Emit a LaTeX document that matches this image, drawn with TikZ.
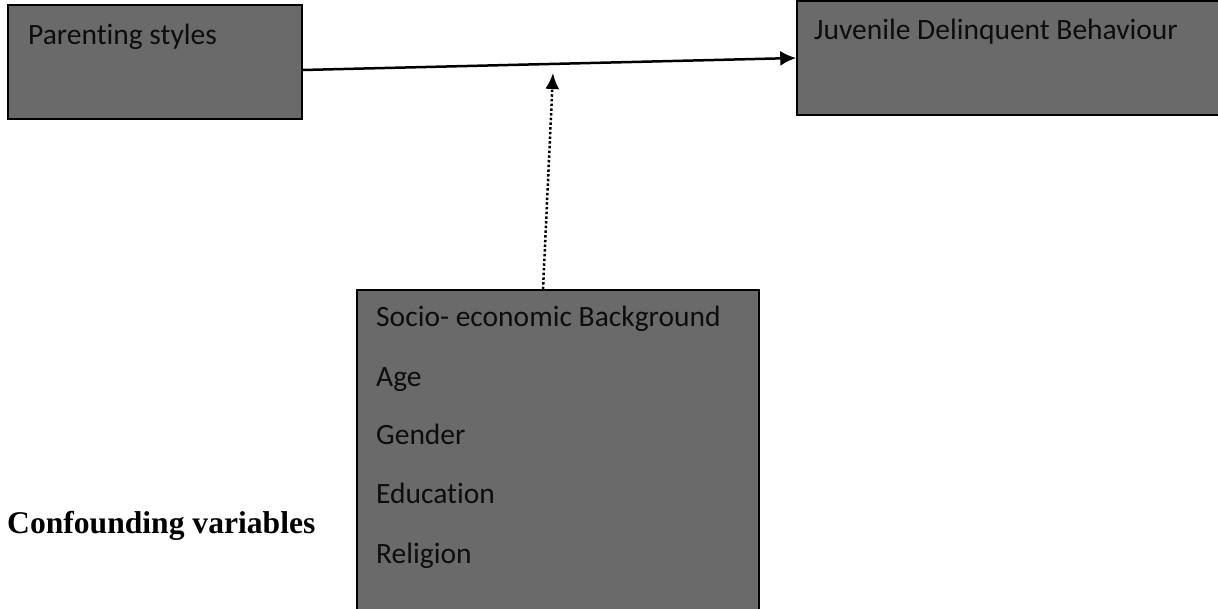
\documentclass[tikz,border=0pt]{standalone}
\usepackage{fontspec}
\setmainfont{Liberation Serif}
\newfontfamily\calibri[Ligatures=NoCommon]{Carlito}
\usetikzlibrary{arrows.meta}
\definecolor{boxgray}{HTML}{6A6A6A}

\tikzset{
    box/.style={rectangle, draw=black, line width=1.5pt, fill=boxgray, inner sep=0pt},
    lbl/.style={anchor=base west, inner sep=0pt, font=\calibri\fontsize{29.5}{34}\selectfont, text=black!95}
}

\begin{document}
\begin{tikzpicture}[x=1pt, y=1pt]
    \useasboundingbox (0, 0) rectangle (1218, 608);

    \node[box, minimum width=294pt, minimum height=114pt] (ps) at (155, 546) {};
    \node[box, minimum width=428pt, minimum height=114pt] (jdb) at (1011, 550) {};
    \node[box, minimum width=402pt, minimum height=323pt] (cv) at (558, 156.5) {};

    \node[lbl] (pstext) at (28, 563) {Parenting styles};
    \node[lbl] (jdbtext) at (814, 568) {Juvenile Delinquent Behaviour};

    \node[lbl] (socio) at (376, 281) {Socio- economic Background};
    \node[lbl] (age) at (376, 221) {Age};
    \node[lbl] (gender) at (376, 163) {Gender};
    \node[lbl] (edu) at (376, 105) {Education};
    \node[lbl] (rel) at (376, 45) {Religion};

    \node[anchor=base west, inner sep=0pt, font=\bfseries\fontsize{31.6}{36}\selectfont] (conf) at (7, 75) {Confounding variables};

    \coordinate (mod) at (553, 535);

    \draw[line width=2.5pt, -{Latex[length=16pt, width=15pt]}] ([yshift=-8pt]ps.east) -- (jdb.west);
    \draw[line width=2.5pt, dash pattern=on 2.5pt off 2.2pt, -{Latex[length=16pt, width=14pt]}] ([xshift=-15pt]cv.north) -- (mod);
\end{tikzpicture}
\end{document}
